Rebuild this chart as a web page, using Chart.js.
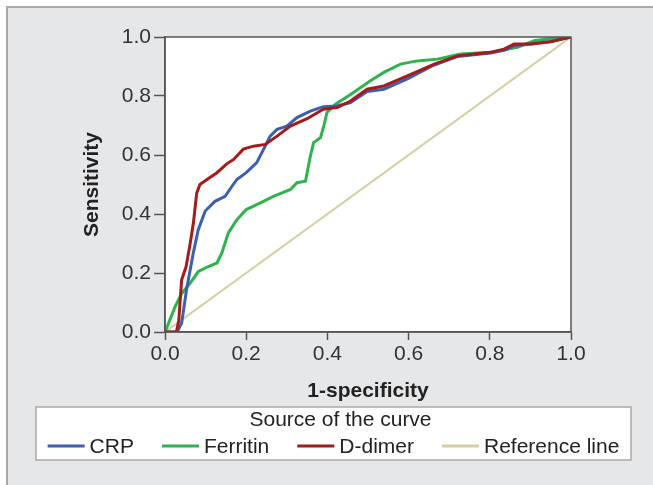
<!DOCTYPE html>
<html>
<head>
<meta charset="utf-8">
<script src="https://cdn.jsdelivr.net/npm/chart.js@4.4.1/dist/chart.umd.min.js"></script>
<style>
  body { margin: 0; background: #fff; }
  #frame {
    position: absolute; left: 6px; top: 6px; width: 647px; height: 479px;
    border-top: 2px solid #a9a9a9; border-left: 2px solid #a9a9a9;
    background: #e6e7e9;
  }
  #roc { position: absolute; left: 0; top: 0; }
</style>
</head>
<body>
<div id="frame"></div>
<canvas id="roc" width="653" height="485"></canvas>
<script>
// ROC curve points (x = 1-specificity, y = sensitivity)
const crpX = [0, 0.03, 0.041, 0.053, 0.07, 0.082, 0.099, 0.123, 0.148, 0.165, 0.177, 0.2, 0.226, 0.243, 0.259, 0.276, 0.3, 0.325, 0.358, 0.39, 0.424, 0.457, 0.498, 0.539, 0.597, 0.663, 0.72, 0.802, 0.835, 0.86, 0.901, 0.95, 1.0];
const crpY = [0, 0, 0.03, 0.143, 0.27, 0.347, 0.41, 0.443, 0.46, 0.494, 0.517, 0.54, 0.574, 0.62, 0.664, 0.687, 0.698, 0.727, 0.749, 0.764, 0.766, 0.778, 0.815, 0.823, 0.858, 0.905, 0.934, 0.946, 0.955, 0.97, 0.976, 0.985, 1.0];

const ferritinX = [0, 0.025, 0.041, 0.062, 0.082, 0.107, 0.128, 0.14, 0.156, 0.177, 0.2, 0.235, 0.267, 0.309, 0.325, 0.346, 0.358, 0.366, 0.383, 0.391, 0.399, 0.42, 0.457, 0.506, 0.539, 0.58, 0.621, 0.671, 0.728, 0.802, 0.868, 0.909, 0.95, 1.0];
const ferritinY = [0, 0.086, 0.13, 0.166, 0.205, 0.222, 0.234, 0.268, 0.336, 0.381, 0.415, 0.438, 0.46, 0.483, 0.506, 0.511, 0.596, 0.642, 0.659, 0.698, 0.744, 0.772, 0.805, 0.852, 0.88, 0.908, 0.919, 0.925, 0.942, 0.948, 0.965, 0.987, 0.995, 1.0];

const ddimerX = [0, 0.028, 0.034, 0.041, 0.052, 0.062, 0.07, 0.078, 0.086, 0.107, 0.128, 0.152, 0.169, 0.193, 0.218, 0.247, 0.276, 0.309, 0.35, 0.39, 0.424, 0.457, 0.498, 0.539, 0.597, 0.663, 0.72, 0.802, 0.835, 0.86, 0.901, 0.95, 1.0];
const ddimerY = [0, 0, 0.04, 0.177, 0.222, 0.3, 0.37, 0.47, 0.5, 0.52, 0.54, 0.57, 0.585, 0.62, 0.63, 0.636, 0.664, 0.698, 0.723, 0.755, 0.761, 0.783, 0.823, 0.834, 0.868, 0.908, 0.936, 0.948, 0.959, 0.976, 0.976, 0.984, 1.0];

const refX = [0, 1];
const refY = [0, 1];

const tickValues = [0, 0.2, 0.4, 0.6, 0.8, 1.0];

const FONT = "'Liberation Sans', Arial, sans-serif";

function pts(xs, ys) {
  return xs.map((x, i) => ({ x: x, y: ys[i] }));
}

function series(label, xs, ys, color, width, order) {
  return {
    label: label,
    data: pts(xs, ys),
    borderColor: color,
    backgroundColor: color,
    borderWidth: width,
    pointRadius: 0,
    tension: 0,
    order: order,
  };
}

// white plot area + dark frame on all four sides
const plotFrame = {
  id: "plotFrame",
  beforeDraw(chart) {
    const a = chart.chartArea;
    const ctx = chart.ctx;
    ctx.save();
    ctx.fillStyle = "#ffffff";
    ctx.fillRect(a.left, a.top, a.right - a.left, a.bottom - a.top);
    ctx.restore();
  },
  afterDatasetsDraw(chart) {
    const a = chart.chartArea;
    const ctx = chart.ctx;
    ctx.save();
    ctx.strokeStyle = "#555";
    ctx.lineWidth = 1.5;
    ctx.strokeRect(a.left, a.top, a.right - a.left, a.bottom - a.top);
    ctx.restore();
  },
};

// boxed legend with a title, like the SPSS output
const boxLegend = {
  id: "boxLegend",
  afterDraw(chart) {
    const ctx = chart.ctx;
    const left = 36, right = chart.width - 22, top = 407, bottom = 460;
    ctx.save();
    ctx.fillStyle = "#fff";
    ctx.fillRect(left, top, right - left, bottom - top);
    ctx.strokeStyle = "#aaa";
    ctx.lineWidth = 1.5;
    ctx.strokeRect(left, top, right - left, bottom - top);

    ctx.font = "21px " + FONT;
    ctx.fillStyle = "#222";
    ctx.textBaseline = "alphabetic";
    ctx.textAlign = "center";
    const cx = (left + right) / 2;
    ctx.fillText("Source of the curve", cx + 7, 426);

    const lineLen = 37, gap = 5, itemGap = 28;
    const sets = chart.data.datasets;
    let total = 0;
    sets.forEach((d, i) => {
      total += lineLen + gap + ctx.measureText(d.label).width;
      if (i < sets.length - 1) total += itemGap;
    });
    let x = cx - total / 2;
    ctx.textAlign = "left";
    sets.forEach((d) => {
      ctx.strokeStyle = d.borderColor;
      ctx.lineWidth = 3;
      ctx.beginPath();
      ctx.moveTo(x, 446);
      ctx.lineTo(x + lineLen, 446);
      ctx.stroke();
      x += lineLen + gap;
      ctx.fillText(d.label, x, 453);
      x += ctx.measureText(d.label).width + itemGap;
    });
    ctx.restore();
  },
};

const tickOpts = {
  min: 0,
  max: 1,
  afterBuildTicks: (s) => { s.ticks = tickValues.map((v) => ({ value: v })); },
};

new Chart(document.getElementById("roc"), {
  type: "line",
  data: {
    datasets: [
      series("CRP", crpX, crpY, "#3d5fae", 3, 2),
      series("Ferritin", ferritinX, ferritinY, "#2fb34e", 3, 3),
      series("D-dimer", ddimerX, ddimerY, "#a31b1b", 3, 1),
      series("Reference line", refX, refY, "#d4cfa2", 2, 4),
    ],
  },
  options: {
    responsive: false,
    animation: false,
    devicePixelRatio: 1,
    layout: { padding: { left: 80, right: 82, top: 37, bottom: 81 } },
    plugins: { legend: { display: false }, tooltip: { enabled: false } },
    scales: {
      x: {
        type: "linear",
        ...tickOpts,
        afterFit: (s) => { s.height = 72; },
        border: { display: true, color: "#555", width: 1.5 },
        grid: { drawOnChartArea: false, drawTicks: true, tickLength: 8, tickColor: "#555", tickWidth: 1.5 },
        ticks: {
          padding: 2,
          color: "#333",
          font: { family: FONT, size: 21 },
          callback: (v) => Number(v).toFixed(1),
          maxRotation: 0,
        },
        title: {
          display: true,
          text: "1-specificity",
          color: "#222",
          padding: { top: 0, bottom: 0 },
          font: { family: FONT, size: 21, weight: "bold" },
        },
      },
      y: {
        type: "linear",
        ...tickOpts,
        afterFit: (s) => { s.width = 85; },
        border: { display: true, color: "#555", width: 1.5 },
        grid: { drawOnChartArea: false, drawTicks: true, tickLength: 11, tickColor: "#555", tickWidth: 1.5 },
        ticks: {
          padding: 3,
          color: "#333",
          font: { family: FONT, size: 21 },
          callback: (v) => Number(v).toFixed(1),
        },
        title: {
          display: true,
          text: "Sensitivity",
          color: "#222",
          padding: { top: 0, bottom: 0 },
          font: { family: FONT, size: 21, weight: "bold" },
        },
      },
    },
  },
  plugins: [plotFrame, boxLegend],
});
</script>
</body>
</html>
